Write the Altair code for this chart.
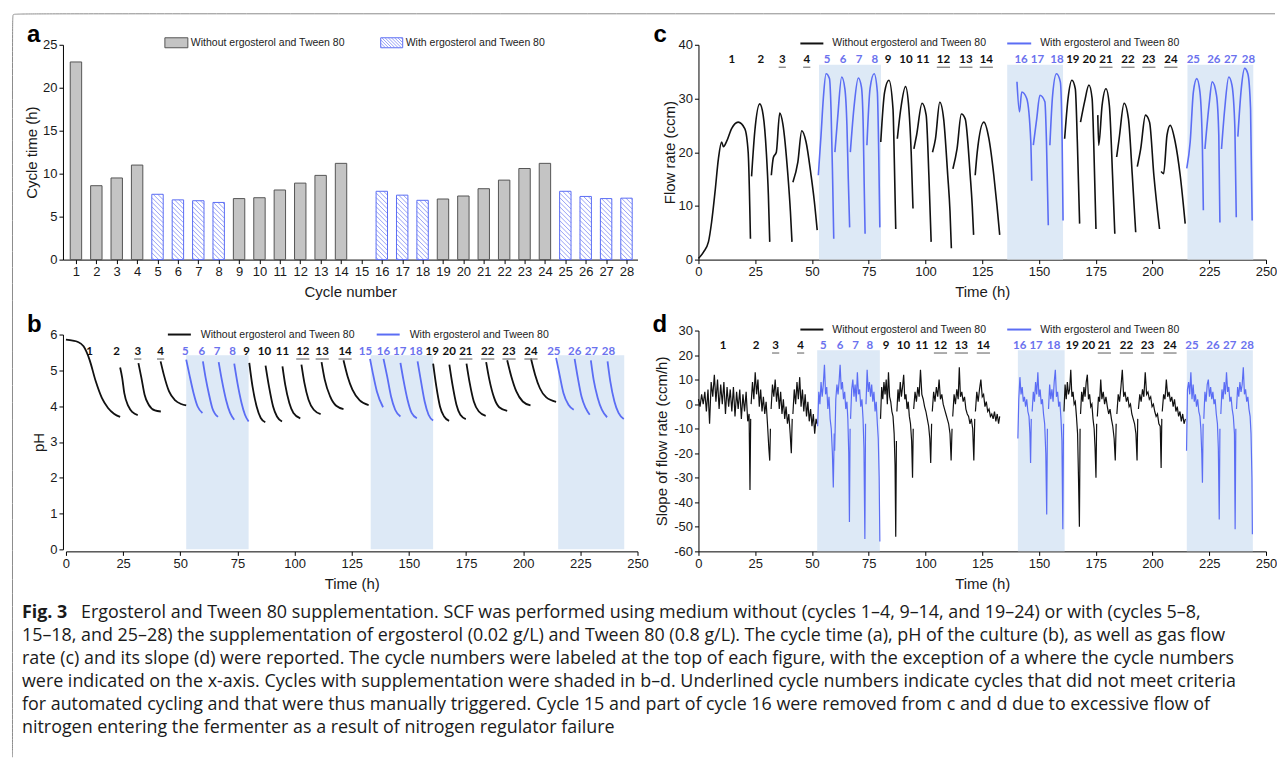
import altair as alt
import numpy as np
import pandas as pd

# ------------------------------------------------------------------ data
CYCLES = list(range(1, 29))
CYCLE_TIME = [23.0, 8.6, 9.5, 11.0, 7.6, 6.95, 6.85, 6.65, 7.1, 7.2, 8.1, 8.9, 9.8, 11.2,
              None, 7.95, 7.5, 6.9, 7.05, 7.4, 8.25, 9.25, 10.6, 11.2, 7.95, 7.35, 7.1, 7.15]
WITH_SUPP = {5, 6, 7, 8, 15, 16, 17, 18, 25, 26, 27, 28}
UNDERLINED = {3, 4, 12, 13, 14, 21, 22, 23, 24}

# panel b : pH per cycle
PH_CYCLES = CYCLES
PH_TIME = [
    [0, 3, 5, 7.7, 10.3, 13, 15.7, 18.4, 21, 23.7],
    [23.7, 24.6, 25.5, 27.3, 29.1, 31.4],
    [31.7, 33, 34.4, 36.2, 38.9, 41.5],
    [41.4, 42.8, 45.1, 47.8, 50.4, 52.6],
    [52.6, 54, 55.8, 57.6, 59.7],
    [59.9, 61.1, 62.6, 64, 66.5],
    [66.8, 68.3, 70, 71.8, 73.6],
    [73.6, 75, 76.8, 78.3, 79.9],
    [80.2, 81.6, 83.4, 85.2, 87.2],
    [87.3, 88.8, 90.6, 92.3, 94.5],
    [94.7, 95.9, 97.7, 99.5, 102.5],
    [103, 104.3, 106.1, 108.4, 111.4],
    [111.8, 113.2, 115.5, 118.2, 121.4],
    [121.4, 123.2, 125.3, 128.5, 132.4],
    [133, 134.2, 136, 138.7],
    [138.9, 140.5, 142.2, 144, 146.3],
    [146.3, 147.6, 149.4, 151.2, 153.5],
    [153.8, 155.3, 156.9, 158.6, 160.6],
    [160.6, 162, 163.6, 165.4, 167.6],
    [167.7, 169.2, 170.8, 172.5, 174.9],
    [175.2, 176.6, 178.4, 180.6, 183.6],
    [183.8, 185.2, 187.3, 189.5, 193],
    [193, 194.8, 197, 199.8, 203.2],
    [203.4, 205.2, 207.3, 210, 214.4],
    [214.4, 215.9, 217.6, 219.8, 222.1],
    [222.5, 223.9, 225.5, 227.3, 229.1],
    [229.6, 230.8, 232.6, 234.4, 236.7],
    [236.9, 238.1, 239.9, 241.7, 244],
]
PH_VALUE = [
    [5.86, 5.83, 5.8, 5.67, 5.3, 4.7, 4.23, 3.95, 3.79, 3.7],
    [5.08, 4.79, 4.37, 4.0, 3.83, 3.75],
    [5.2, 4.79, 4.32, 4.04, 3.88, 3.85],
    [5.25, 4.88, 4.41, 4.16, 4.06, 4.02],
    [5.3, 4.88, 4.37, 3.99, 3.81],
    [5.25, 4.79, 4.32, 3.95, 3.7],
    [5.23, 4.69, 4.18, 3.81, 3.62],
    [5.19, 4.65, 4.09, 3.76, 3.57],
    [5.21, 4.55, 3.99, 3.67, 3.55],
    [5.13, 4.55, 3.99, 3.71, 3.57],
    [5.11, 4.6, 4.09, 3.81, 3.66],
    [5.16, 4.65, 4.18, 3.9, 3.78],
    [5.23, 4.74, 4.28, 4.01, 3.92],
    [5.28, 4.83, 4.46, 4.16, 4.03],
    [5.32, 4.93, 4.41, 3.97],
    [5.32, 4.83, 4.27, 3.9, 3.71],
    [5.21, 4.74, 4.18, 3.81, 3.66],
    [5.25, 4.69, 4.13, 3.76, 3.6],
    [5.19, 4.55, 3.99, 3.71, 3.59],
    [5.16, 4.55, 4.04, 3.76, 3.64],
    [5.19, 4.65, 4.13, 3.85, 3.73],
    [5.23, 4.74, 4.23, 3.97, 3.87],
    [5.28, 4.83, 4.41, 4.13, 4.02],
    [5.33, 4.88, 4.5, 4.25, 4.12],
    [5.35, 4.88, 4.37, 4.04, 3.9],
    [5.32, 4.79, 4.27, 3.95, 3.76],
    [5.28, 4.74, 4.23, 3.9, 3.69],
    [5.25, 4.69, 4.13, 3.81, 3.64],
]
PH_LABEL_TIME = [10.3, 22.1, 31.4, 41.4, 52.2, 59.4, 66.1, 72.9, 79, 86.8, 94.7, 103.6, 112.1, 122.1,
                 131, 138.9, 146, 153.1, 160.2, 167.6, 174.9, 184.5, 193.8, 203.4, 213.4, 222.5,
                 229.8, 237.3]
PH_SHADE = [[52.6, 79.9], [133.3, 160.6], [215.3, 244.2]]

# panel c : flow rate per cycle (cycle 15 removed)
FLOW_CYCLES = [c for c in CYCLES if c != 15]
FLOW_TIME = [
    [0, 2.2, 4.4, 5.8, 7.3, 8.8, 10.2, 11, 12.4, 14.6, 17.5, 20.4, 21.9, 22.9],
    [23.4, 24.8, 27, 28.5, 29.9, 30.8, 31.4],
    [32.1, 33, 34.3, 35.8, 37.2, 39.4, 40.5, 41.2],
    [41.6, 43.8, 45.5, 47.4, 49.6, 51, 52.3],
    [52.8, 54, 55, 56.2, 57.7, 58.4, 59.1, 59.6],
    [60.1, 61.3, 63.1, 64.5, 65.4, 66, 66.6],
    [66.9, 68.6, 70.4, 71.8, 72.6, 73, 73.4],
    [74.2, 75.6, 77.4, 78.8, 79.4, 79.9],
    [80.3, 82, 83.9, 85.7, 86.3, 86.9],
    [87.6, 89.1, 91.2, 92.7, 93.7, 94.5],
    [94.9, 96.1, 98.5, 100.3, 101.5, 102.5],
    [103.1, 104.4, 106.3, 108, 109.8, 110.8, 111.4],
    [112.1, 113.9, 115.8, 117.5, 119.7, 120.6, 121.2],
    [121.9, 122.8, 125.7, 127.9, 130.1, 131.5, 132.7],
    [140.3, 141.4, 142.4, 144.6, 146.4, 146.8],
    [147.5, 149, 150.4, 152.6, 153.3, 154.1],
    [154.8, 156, 157.7, 159.4, 160.2, 160.6],
    [161.3, 162.8, 164.5, 166, 166.9, 167.9],
    [168.3, 170.1, 172, 173.4, 174.1, 175.1],
    [175.9, 176.3, 177.8, 179.5, 181, 182.4, 183.4],
    [184.2, 185.3, 187.5, 189.4, 191.1, 192.6],
    [193.3, 194.8, 196.9, 198.7, 200.6, 203.1],
    [203.8, 204.9, 206.4, 207.8, 210, 212.2, 214.4],
    [215.1, 216.6, 218, 219.5, 220.9, 222, 222.4],
    [223.1, 224.9, 226.3, 228.2, 229.2, 229.7],
    [230.4, 231.8, 233.6, 235, 236.3, 236.9],
    [237.6, 239.1, 240.6, 242, 243.2, 243.9],
]
FLOW_VALUE = [
    [0.2, 1.4, 3.3, 7, 12.6, 18.8, 21.9, 21, 22, 24.4, 25.6, 24.4, 20, 3.9],
    [15.5, 23.8, 29, 26.9, 20, 12, 3.3],
    [15.7, 19, 20, 27.3, 25.2, 15.7, 9, 3.3],
    [14.4, 18.2, 24, 21.9, 15.7, 11, 5.5],
    [15.7, 23.2, 30, 34.6, 33.7, 28, 15, 3.9],
    [20, 26.3, 34, 31.8, 25, 15, 6],
    [20, 28.7, 33.8, 32.1, 24.3, 14, 4.8],
    [21.3, 31.9, 34.6, 31.2, 20, 6],
    [21.9, 31.2, 33.4, 28, 18, 5.7],
    [22.5, 28, 32.2, 28, 20, 9.5],
    [20.6, 23.2, 29.1, 26.9, 15.7, 3.3],
    [20, 22.5, 29.3, 26.2, 15.7, 9, 2.1],
    [16.9, 20.6, 27.1, 26.2, 15.7, 10, 4.6],
    [15.7, 20, 25.6, 22.6, 15.7, 10, 4.6],
    [33.1, 27.5, 31.2, 30, 21.9, 14.7],
    [21.3, 26.2, 30.6, 29.4, 21.9, 6.4],
    [21.3, 30.6, 34.6, 33.1, 22, 7.3],
    [22.5, 30, 33.4, 31.8, 21.9, 6.7],
    [25.6, 29.4, 32.5, 30, 21.9, 5.7],
    [26.9, 21.3, 28.7, 31.8, 28.7, 15.7, 4.8],
    [19.1, 22.5, 29.1, 26.2, 15.7, 5.1],
    [17.3, 20.6, 26.9, 25.6, 15.7, 5.7],
    [16.4, 16, 23.2, 25, 21.9, 15.7, 6.7],
    [17, 21.9, 31.2, 33.7, 31.2, 20.6, 9.2],
    [20.6, 28.7, 33.1, 30.6, 23.2, 6.9],
    [20.6, 28, 34, 32.5, 24.4, 7.9],
    [22.9, 31.8, 35.6, 34.6, 28, 7.3],
]
FLOW_LABEL_TIME = [14.7, 27.5, 36.9, 47.7, 56.7, 63.7, 70.7, 77.7, 83.5, 91.4, 98.9, 107.9, 117.8,
                   126.8, 142.1, 149.3, 157.9, 164.9, 172.1, 179.5, 189.2, 198.4, 208.1, 218, 227,
                   234.4, 242.3]
FLOW_SHADE = [[53.1, 80.4], [136.0, 160.6], [215.4, 244.4]]

# panel d : slope of flow rate per cycle
SLOPE_TIME = [
    [0, 0.7, 1.4, 2.1, 2.8, 3.5, 4.2, 4.9, 5.6, 6.3, 7, 7.7, 8.4, 9.1, 9.8, 10.5, 11.2, 11.9, 12.6,
     13.3, 14, 14.7, 15.4, 16.1, 16.8, 17.5, 18.2, 18.9, 19.6, 20.3, 21, 21.7, 22.3, 22.7, 23.0],
    [23.2, 23.8, 24.4, 25, 25.6, 26.2, 26.8, 27.4, 28, 28.6, 29.2, 29.8, 30.4, 31, 31.4, 31.7],
    [32, 32.6, 33.2, 33.8, 34.4, 35, 35.6, 36.2, 36.8, 37.4, 38, 38.6, 39.2, 39.8, 40.4, 40.9, 41.3],
    [41.6, 42.2, 42.8, 43.4, 44, 44.6, 45.2, 45.8, 46.4, 47, 47.6, 48.2, 48.8, 49.4, 50, 50.6, 51.2,
     51.8, 52.3],
    [52.5, 53, 53.5, 54, 54.5, 55, 55.5, 56, 56.5, 57, 57.5, 58, 58.5, 59, 59.4, 59.8],
    [60, 60.5, 61, 61.5, 62, 62.4, 62.9, 63.4, 63.9, 64.4, 64.9, 65.4, 65.8, 66.2, 66.5, 66.8],
    [67, 67.5, 68, 68.5, 69, 69.5, 70, 70.5, 71, 71.5, 72, 72.5, 72.9, 73.3, 73.6],
    [73.8, 74.3, 74.8, 75.3, 75.8, 76.3, 76.8, 77.3, 77.8, 78.3, 78.8, 79.2, 79.6, 79.9],
    [80.2, 80.7, 81.2, 81.7, 82.2, 82.7, 83.2, 83.7, 84.2, 84.7, 85.2, 85.7, 86.2, 86.6, 86.9, 87.2],
    [87.4, 87.9, 88.4, 88.9, 89.4, 89.9, 90.4, 90.9, 91.4, 91.9, 92.4, 92.9, 93.4, 93.9, 94.3, 94.6],
    [94.8, 95.4, 96, 96.6, 97.2, 97.8, 98.4, 99, 99.6, 100.2, 100.8, 101.4, 101.9, 102.3, 102.7],
    [103, 103.6, 104.2, 104.8, 105.4, 106, 106.6, 107.2, 107.8, 108.4, 109, 109.6, 110.2, 110.8,
     111.3, 111.7],
    [112, 112.6, 113.2, 113.8, 114.4, 114.9, 115.4, 116, 116.6, 117.2, 117.8, 118.4, 119, 119.6,
     120.2, 120.8, 121.3, 121.7],
    [122, 122.6, 123.2, 123.8, 124.4, 125, 125.6, 126.2, 126.8, 127.4, 128, 128.6, 129.2, 129.8,
     130.4, 131, 131.6, 132.2, 132.7],
    [140.7, 141.1, 141.6, 142.1, 142.6, 143.1, 143.6, 144.1, 144.6, 145.1, 145.6, 146, 146.3, 146.6],
    [147, 147.5, 148, 148.5, 149, 149.5, 150, 150.5, 151, 151.5, 152, 152.5, 153, 153.4, 153.7],
    [154.2, 154.7, 155.2, 155.7, 156.2, 156.7, 157.2, 157.7, 158.2, 158.7, 159.2, 159.7, 160.1,
     160.5, 160.8],
    [161, 161.5, 162, 162.5, 163, 163.5, 164, 164.5, 165, 165.5, 166, 166.5, 167, 167.4, 167.8,
     168.1],
    [168.3, 168.8, 169.3, 169.8, 170.3, 170.8, 171.3, 171.8, 172.3, 172.8, 173.3, 173.8, 174.3,
     174.7, 175.1, 175.4],
    [175.7, 176.2, 176.7, 177.2, 177.7, 178.3, 178.9, 179.5, 180.1, 180.7, 181.3, 181.9, 182.5,
     183.1, 183.6, 184],
    [184.3, 184.9, 185.5, 186.1, 186.7, 187.3, 187.9, 188.5, 189.1, 189.7, 190.3, 190.9, 191.5,
     192.1, 192.7, 193.2, 193.5],
    [193.8, 194.4, 195, 195.6, 196.2, 196.8, 197.4, 198, 198.6, 199.2, 199.8, 200.4, 201, 201.6,
     202.2, 202.8, 203.4, 203.8, 204.1],
    [204.3, 204.9, 205.5, 206.1, 206.7, 207.3, 207.9, 208.5, 209.1, 209.7, 210.3, 210.9, 211.5,
     212.1, 212.7, 213.3, 213.9, 214.5],
    [215, 215.4, 215.9, 216.4, 216.9, 217.4, 217.9, 218.4, 218.9, 219.4, 219.9, 220.4, 220.9,
     221.3, 221.7, 222, 222.3],
    [222.6, 223.1, 223.6, 224.1, 224.6, 225.1, 225.6, 226.1, 226.6, 227.1, 227.6, 228.1, 228.6,
     229, 229.4, 229.7],
    [230.1, 230.6, 231.1, 231.6, 232.1, 232.6, 233.1, 233.6, 234.1, 234.6, 235.1, 235.6, 236.1,
     236.4, 236.7],
    [237, 237.5, 238, 238.5, 239, 239.5, 240, 240.5, 241, 241.5, 242, 242.5, 243, 243.4, 243.8, 244],
]
SLOPE_VALUE = [
    [2, -1, 4, 0, 5, -3, 6, -8, 9, 3, 12, 1, 10, -2, 8, 0, 9, -4, 7, -1, 6, -3, 7, -5, 5, -2, 6, -6,
     4, -3, 5, -7, -4, -35, -6],
    [0, 9, 2, 13, 4, 10, -1, 6, -3, 3, -4, 1, -8, -18, -23, -10],
    [-2, 8, 3, 10, 1, 7, -2, 5, -4, 2, -6, -1, -8, -4, -12, -20, -6],
    [-4, 6, 0, 9, 2, 11, -1, 6, -3, 4, -5, 1, -7, -2, -9, -4, -12, -6, -8],
    [-9, 5, 0, 9, 3, 8, 16, 4, 7, -2, 3, -6, -10, -20, -34, -12],
    [-19, 2, 8, 4, 10, 16, 6, 9, 2, 5, -2, 1, -6, -20, -48, -10],
    [-6, 6, 10, 3, 8, 1, 13, 4, 6, -1, 2, -6, -18, -55, -8],
    [0, 14, 5, 9, 3, 8, 1, 5, -3, 1, -8, -14, -30, -56],
    [-6, 7, 2, 9, 4, 10, 0, 13, 3, 1, -3, -5, -12, -25, -54, -15],
    [-3, 6, 1, 9, 3, 7, 12, 2, 4, -2, 1, -5, -8, -15, -30, -10],
    [-2, 5, 1, 7, 3, 14, 4, 2, -1, -3, -6, -9, -14, -24, -8],
    [-3, 5, 1, 7, 3, 10, 2, 4, 0, -2, -4, -6, -8, -12, -23, -10],
    [-5, 4, 0, 6, 2, 15, 3, 5, 1, 3, -2, -4, -5, -8, -6, -10, -23, -6],
    [-3, 5, 1, 6, 10, 3, 4, -1, 1, -3, -2, -5, -4, -6, -3, -7, -4, -8, -5],
    [-14, 2, 11, 4, 7, 1, 3, -1, 2, -3, -5, -12, -24, -6],
    [-3, 5, 1, 9, 4, 13, 3, 6, 0, 2, -4, -8, -20, -45, -10],
    [-2, 8, 2, 6, 1, 9, 14, 3, 5, -1, 1, -6, -15, -51, -8],
    [-3, 8, 2, 9, 4, 6, 14, 3, 5, 0, 1, -5, -12, -30, -50, -10],
    [-4, 5, 1, 7, 3, 9, 12, 2, 4, -1, 0, -6, -10, -18, -30, -8],
    [-5, 3, 1, 10, 2, 5, 0, 3, -1, -4, -2, -6, -9, -14, -23, -8],
    [-4, 4, 1, 7, 14, 3, 5, 1, 3, -1, 0, -4, -6, -8, -12, -23, -6],
    [-2, 4, 1, 6, 3, 13, 4, 5, 2, 3, -1, 0, -3, -5, -4, -8, -9, -26, -6],
    [-3, 4, 2, 10, 3, 5, 1, 3, -1, 2, -3, -1, -5, -3, -7, -4, -8, -6],
    [-19, 6, 9, 4, 13, 2, 8, 1, 4, -1, 2, -3, -5, -10, -20, -32, -8],
    [-6, 5, 1, 8, 10, 3, 7, 2, 5, 0, 2, -4, -8, -18, -47, -10],
    [-4, 6, 2, 9, 4, 13, 5, 7, 1, 3, -2, -5, -12, -51, -10],
    [-2, 7, 3, 9, 5, 8, 15, 4, 6, 1, 3, -2, -5, -12, -30, -53],
]
SLOPE_LABEL_TIME = [10.8, 25.4, 34, 45, 55, 62.4, 69.2, 75.5, 82.7, 90.3, 98.4, 106.6, 115.8, 125.5,
                    141.5, 148.7, 156.5, 164.6, 171.8, 178.8, 188.5, 197.8, 207.7, 217.4, 226.6,
                    234, 241.7]
SLOPE_SHADE = [[52.3, 79.9], [140.7, 161.3], [215.1, 244.2]]

LEGEND_TEXT = ["Without ergosterol and Tween 80", "With ergosterol and Tween 80"]
CAPTION = [
    "Ergosterol and Tween 80 supplementation. SCF was performed using medium without (cycles 1\u20134, 9\u201314, and 19\u201324) or with (cycles 5\u20138,",
    "15\u201318, and 25\u201328) the supplementation of ergosterol (0.02 g/L) and Tween 80 (0.8 g/L). The cycle time (a), pH of the culture (b), as well as gas flow",
    "rate (c) and its slope (d) were reported. The cycle numbers were labeled at the top of each figure, with the exception of a where the cycle numbers",
    "were indicated on the x-axis. Cycles with supplementation were shaded in b\u2013d. Underlined cycle numbers indicate cycles that did not meet criteria",
    "for automated cycling and that were thus manually triggered. Cycle 15 and part of cycle 16 were removed from c and d due to excessive flow of",
    "nitrogen entering the fermenter as a result of nitrogen regulator failure",
]

# ------------------------------------------------------------------ style
FONT = "Liberation Sans, Arial, Helvetica, sans-serif"
NUM_FONT = "Lato, Calibri, sans-serif"
CAP_FONT = "Open Sans, sans-serif"
CAP_SIZE = 17.9
BLACK = "#111111"
BLUE = "#5b6df4"
BLUE_LBL = "#6b72ee"
SHADE = "#dde9f6"
GRAY_FILL = "#c4c4c4"
GRAY_EDGE = "#555555"
HATCH = "#7d89f2"
ULINE = "#808080"
GROUP_SCALE = alt.Scale(domain=["without", "with"], range=[BLACK, BLUE])


def ptext(rows, **mk):
    df = pd.DataFrame(rows)
    return alt.Chart(df).mark_text(**mk).encode(
        x=alt.X("px:Q", scale=None), y=alt.Y("py:Q", scale=None), text="txt:N")


def series_df(cycles, times, values):
    rows = []
    for c, ts, vs in zip(cycles, times, values):
        assert len(ts) == len(vs), (c, len(ts), len(vs))
        g = "with" if c in WITH_SUPP else "without"
        for t, v in zip(ts, vs):
            rows.append({"cycle": c, "t": t, "v": v, "group": g})
    return pd.DataFrame(rows)


def labels_df(cycles, times, px_per_h):
    rows = []
    for c, t in zip(cycles, times):
        half = (3.6 if c < 10 else 6.6) / px_per_h
        rows.append({"cycle": c, "t": t, "txt": str(c),
                     "col": BLUE_LBL if c in WITH_SUPP else BLACK,
                     "u": c in UNDERLINED, "lo": t - half, "hi": t + half})
    return pd.DataFrame(rows)


def line_legend(y, x_black, x_text1, x_blue, x_text2):
    rules = alt.Chart(pd.DataFrame([
        {"px": x_black[0], "px2": x_black[1], "py": y, "group": "without"},
        {"px": x_blue[0], "px2": x_blue[1], "py": y, "group": "with"},
    ])).mark_rule(strokeWidth=2).encode(
        x=alt.X("px:Q", scale=None), x2="px2:Q", y=alt.Y("py:Q", scale=None),
        color=alt.Color("group:N", scale=GROUP_SCALE, legend=None))
    texts = ptext([{"px": x_text1, "py": y, "txt": LEGEND_TEXT[0]},
                   {"px": x_text2, "py": y, "txt": LEGEND_TEXT[1]}],
                  align="left", baseline="middle", font=FONT, fontSize=10.5, color="#222")
    return [rules, texts]


def time_panel(xs, ys, x_axis, y_axis, shade, shade_lo, shade_hi,
               series, interp, sw, labels, lab_y, letter, letter_pos, legend_y, legend_x):
    xa = lambda f: alt.X(f"{f}:Q", scale=xs, axis=x_axis)
    ya = lambda f: alt.Y(f"{f}:Q", scale=ys, axis=y_axis)
    sdf = pd.DataFrame({"s": [a for a, b in shade], "e": [b for a, b in shade],
                        "lo": shade_lo, "hi": shade_hi})
    shade_l = alt.Chart(sdf).mark_rect(color=SHADE).encode(
        x=xa("s"), x2="e:Q", y=ya("lo"), y2="hi:Q")
    line_l = alt.Chart(series).mark_line(interpolate=interp, strokeWidth=sw).encode(
        x=xa("t"), y=ya("v"),
        color=alt.Color("group:N", scale=GROUP_SCALE, legend=None),
        detail="cycle:N", order="t:Q")
    lab_l = alt.Chart(labels).mark_text(font=NUM_FONT, fontWeight="bold", fontSize=11.5,
                                        baseline="middle").encode(
        x=xa("t"), y=alt.value(lab_y), text="txt:N",
        color=alt.Color("col:N", scale=None))
    und_l = alt.Chart(labels[labels["u"]]).mark_rule(color=ULINE, strokeWidth=1.3).encode(
        x=xa("lo"), x2="hi:Q", y=alt.value(lab_y + 7.5))
    let_l = ptext([{"px": letter_pos[0], "py": letter_pos[1], "txt": letter}],
                  align="left", baseline="alphabetic", font=FONT, fontWeight="bold",
                  fontSize=24, color="#000")
    return [shade_l, line_l, lab_l, und_l, let_l] + line_legend(legend_y, *legend_x)


TIME_VALUES = list(range(0, 251, 25))

# ------------------------------------------------------------------ panel a
A_W, A_H = 575, 215
A_XDOM = [0.363, 28.54]
A_PXU = A_W / (A_XDOM[1] - A_XDOM[0])
A_PYU = A_H / 25.0
BAR_HALF = 0.28

bars = pd.DataFrame({"cycle": CYCLES, "time": CYCLE_TIME}).dropna()
bars["lo"] = bars["cycle"] - BAR_HALF
bars["hi"] = bars["cycle"] + BAR_HALF
bars["zero"] = 0.0
bars["supp"] = bars["cycle"].isin(WITH_SUPP)

hatch_rows = []
step = 4.6
w_px = 2 * BAR_HALF * A_PXU
for _, r in bars[bars["supp"]].iterrows():
    h_px = r["time"] * A_PYU
    c = step / 2
    while c < w_px + h_px:
        u1 = max(0.0, c - h_px)
        u2 = min(w_px, c)
        hatch_rows.append({"hx": r["lo"] + u1 / A_PXU, "hy": (c - u1) / A_PYU,
                           "hx2": r["lo"] + u2 / A_PXU, "hy2": (c - u2) / A_PYU})
        c += step
hatch = pd.DataFrame(hatch_rows)

a_xs = alt.Scale(domain=A_XDOM, nice=False, zero=False)
a_ys = alt.Scale(domain=[0, 25], nice=False)
a_xax = alt.Axis(title="Cycle number", values=CYCLES, format="d", titlePadding=6)
a_yax = alt.Axis(title="Cycle time (h)", values=[0, 5, 10, 15, 20, 25], titlePadding=3)
axa = lambda f: alt.X(f"{f}:Q", scale=a_xs, axis=a_xax)
aya = lambda f: alt.Y(f"{f}:Q", scale=a_ys, axis=a_yax)

gray_bars = alt.Chart(bars[~bars["supp"]]).mark_rect(
    fill=GRAY_FILL, stroke=GRAY_EDGE, strokeWidth=1).encode(
    x=axa("lo"), x2="hi:Q", y=aya("time"), y2="zero:Q")
blue_bars = alt.Chart(bars[bars["supp"]]).mark_rect(fill="white").encode(
    x=axa("lo"), x2="hi:Q", y=aya("time"), y2="zero:Q")
hatch_l = alt.Chart(hatch).mark_rule(color=HATCH, strokeWidth=0.8).encode(
    x=axa("hx"), x2="hx2:Q", y=aya("hy"), y2="hy2:Q")
blue_edge = alt.Chart(bars[bars["supp"]]).mark_rect(
    fill=None, stroke=BLUE, strokeWidth=1).encode(
    x=axa("lo"), x2="hi:Q", y=aya("time"), y2="zero:Q")

# legend of panel a (pixel space)
LB = dict(x0=318, x1=340, y0=-7, y1=3)
leg_boxes = alt.Chart(pd.DataFrame([
    {"px": 102, "px2": 125, "py": -7, "py2": 3, "f": GRAY_FILL, "s": GRAY_EDGE},
    {"px": LB["x0"], "px2": LB["x1"], "py": LB["y0"], "py2": LB["y1"], "f": "white", "s": BLUE},
])).mark_rect(strokeWidth=1).encode(
    x=alt.X("px:Q", scale=None), x2="px2:Q", y=alt.Y("py:Q", scale=None), y2="py2:Q",
    fill=alt.Fill("f:N", scale=None), stroke=alt.Stroke("s:N", scale=None))
lh_rows = []
W_, H_ = LB["x1"] - LB["x0"], LB["y1"] - LB["y0"]
c = -H_ + 1.5
while c < W_:
    u1, u2 = max(0.0, c), min(W_, c + H_)
    lh_rows.append({"px": LB["x0"] + u1, "py": LB["y0"] + u1 - c,
                    "px2": LB["x0"] + u2, "py2": LB["y0"] + u2 - c})
    c += 3.2
leg_hatch = alt.Chart(pd.DataFrame(lh_rows)).mark_rule(color=HATCH, strokeWidth=0.8).encode(
    x=alt.X("px:Q", scale=None), x2="px2:Q", y=alt.Y("py:Q", scale=None), y2="py2:Q")
leg_text_a = ptext([{"px": 128, "py": -2, "txt": LEGEND_TEXT[0]},
                    {"px": 343, "py": -2, "txt": LEGEND_TEXT[1]}],
                   align="left", baseline="middle", font=FONT, fontSize=10.5, color="#222")
letter_a = ptext([{"px": -36, "py": -3, "txt": "a"}], align="left", baseline="alphabetic",
                 font=FONT, fontWeight="bold", fontSize=24, color="#000")

# outer frame of the figure (pixel space, relative to panel a)
frame = alt.Chart(pd.DataFrame({
    "px": [-50.5, -50.5, -50.5, -50.5, -45.5, 1213],
    "py": [713, 708, -26, -31, -31, -31],
    "o": [0, 1, 2, 3, 4, 5]})).mark_line(
    color="#8c8c8c", strokeWidth=1, interpolate="basis").encode(
    x=alt.X("px:Q", scale=None), y=alt.Y("py:Q", scale=None), order="o:Q")

panel_a = alt.layer(gray_bars, blue_bars, hatch_l, blue_edge, leg_boxes, leg_hatch,
                    leg_text_a, letter_a, frame).properties(width=A_W, height=A_H)

# ------------------------------------------------------------------ panel b
B_W, B_H = 575, 221
b_layers = time_panel(
    alt.Scale(domain=[0, 250], range=[3, 575], nice=False, zero=False),
    alt.Scale(domain=[0, 6], range=[219, 4], nice=False),
    alt.Axis(title="Time (h)", values=TIME_VALUES, titlePadding=6),
    alt.Axis(title="pH", values=[0, 1, 2, 3, 4, 5, 6], titlePadding=3),
    PH_SHADE, [0, 0, 0], [5.42, 5.42, 5.42],
    series_df(PH_CYCLES, PH_TIME, PH_VALUE), "monotone", 1.8,
    labels_df(PH_CYCLES, PH_LABEL_TIME, 572 / 250), 21,
    "b", (-36, 1), 4, ((105, 128), 138, (314, 337), 347))
cap_rows = [{"px": 18, "py": 283, "txt": CAPTION[0]}] + [
    {"px": -41, "py": 283 + 23 * i, "txt": CAPTION[i]} for i in range(1, len(CAPTION))]
caption = ptext(cap_rows, align="left", baseline="middle", font=CAP_FONT, fontSize=CAP_SIZE,
                color="#1a1a1a")
caption_bold = ptext([{"px": -41, "py": 283, "txt": "Fig. 3"}], align="left",
                     baseline="middle", font=CAP_FONT, fontSize=CAP_SIZE, fontWeight="bold",
                     color="#1a1a1a")
panel_b = alt.layer(*b_layers, caption, caption_bold).properties(width=B_W, height=B_H)

# ------------------------------------------------------------------ panel c
C_W, C_H = 568, 215
c_layers = time_panel(
    alt.Scale(domain=[0, 250], nice=False, zero=False),
    alt.Scale(domain=[0, 40], nice=False),
    alt.Axis(title="Time (h)", values=TIME_VALUES, titlePadding=6),
    alt.Axis(title="Flow rate (ccm)", values=[0, 10, 20, 30, 40], titlePadding=1),
    FLOW_SHADE, [0, 0, 0], [36.3, 36.3, 36.3],
    series_df(FLOW_CYCLES, FLOW_TIME, FLOW_VALUE), "monotone", 1.6,
    labels_df(FLOW_CYCLES, FLOW_LABEL_TIME, 568 / 250), 15,
    "c", (-45, -3), -1.3, ((102, 125), 134, (309, 333), 342))
panel_c = alt.layer(*c_layers).properties(width=C_W, height=C_H)

# ------------------------------------------------------------------ panel d
D_W, D_H = 568, 221
d_layers = time_panel(
    alt.Scale(domain=[0, 250], nice=False, zero=False),
    alt.Scale(domain=[-60, 30], nice=False, zero=False),
    alt.Axis(title="Time (h)", values=TIME_VALUES, titlePadding=6),
    alt.Axis(title="Slope of flow rate (ccm/h)", values=list(range(-60, 31, 10)),
             labelExpr="datum.value + ''", titlePadding=4),
    SLOPE_SHADE, [-60, -60, -60], [22, 22, 22],
    series_df(FLOW_CYCLES, SLOPE_TIME, SLOPE_VALUE), "linear", 1.2,
    labels_df(FLOW_CYCLES, SLOPE_LABEL_TIME, 568 / 250), 15,
    "d", (-46, 1), -1, ((102, 125), 134, (309, 333), 342))
panel_d = alt.layer(*d_layers).properties(width=D_W, height=D_H)

# ------------------------------------------------------------------ assemble
chart = alt.concat(
    panel_a, panel_c, panel_b, panel_d, columns=2,
    spacing={"row": 71, "column": 61}, bounds="flush", align="each",
).properties(
    padding={"left": 2, "top": 3.5, "right": 0, "bottom": 0},
).configure_axis(
    domainColor="#000", tickColor="#000", labelFont=FONT, labelFontSize=13,
    labelColor="#1a1a1a", titleFont=FONT, titleFontSize=15, titleFontWeight="normal",
    titleColor="#1a1a1a", grid=False, tickSize=4, labelPadding=2, labelFlush=False,
    labelOverlap=False, domainWidth=1, tickWidth=1,
).configure_view(stroke=None)

chart.save("out.html", embed_options={"renderer": "svg", "actions": False})
